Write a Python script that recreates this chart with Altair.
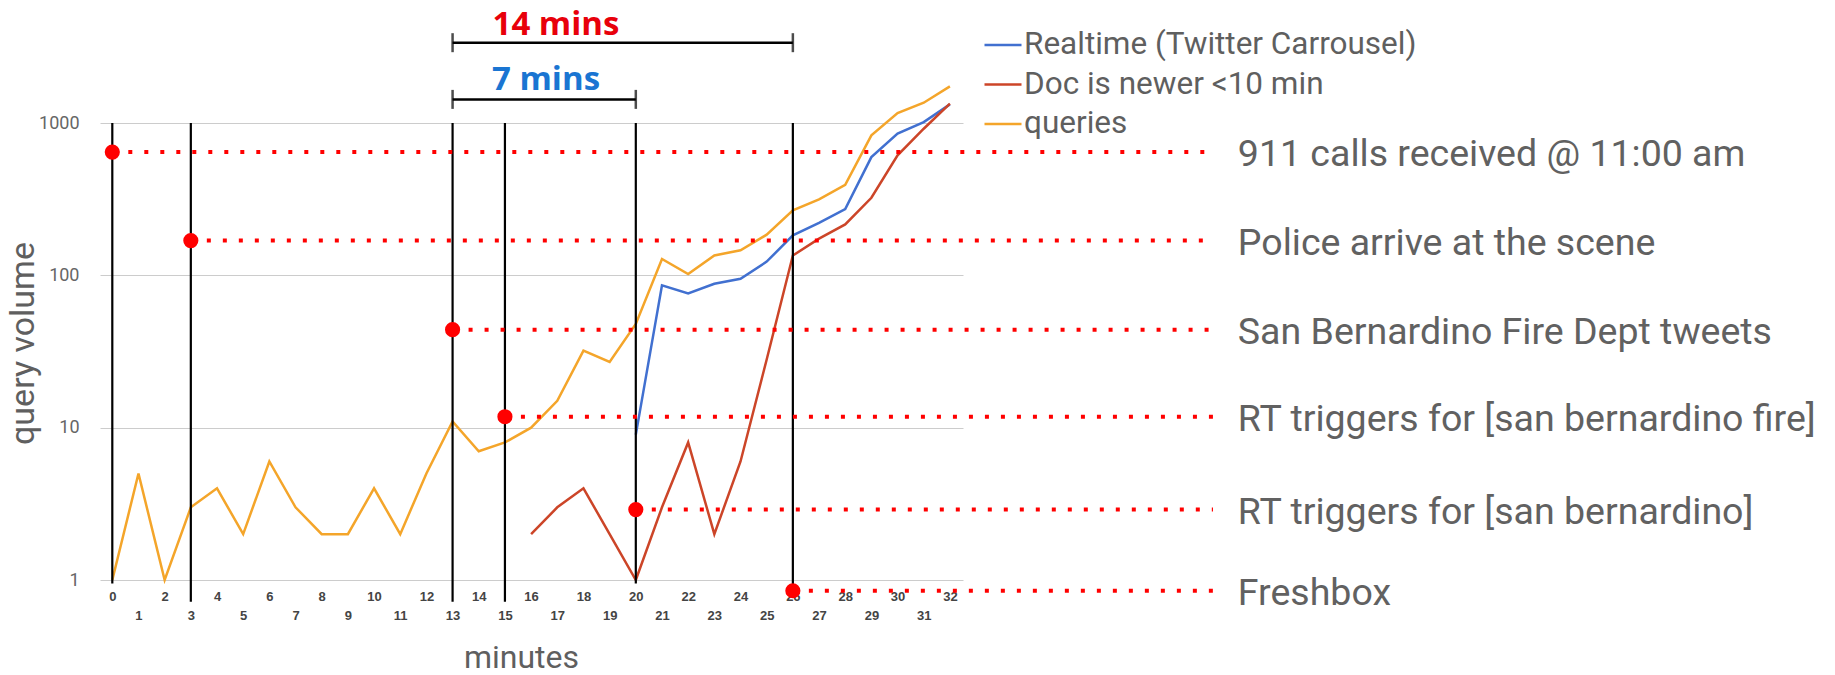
import altair as alt
import pandas as pd

# ---------------- data ----------------
minutes = list(range(33))
queries = [1, 5, 1, 3, 4, 2, 6, 3, 2, 2, 4, 2, 5, 11, 7, 8, 10, 15, 32, 27,
           48, 128, 102, 135, 146, 185, 267, 315, 393, 829, 1161, 1359, 1739]
realtime = [None] * 20 + [9, 86, 76, 88, 95, 123, 183, 221, 272, 597, 851, 1014, 1325]
doc_newer = [None] * 16 + [2, 3, 4, 2, 1, 3, 8, 2, 6, 28, 135, 174, 216, 323, 613, 917, 1339]

series_names = ["Realtime (Twitter Carrousel)", "Doc is newer <10 min", "queries"]
series_colors = ["#4170d0", "#cc4528", "#f4a52a"]

event_minute = [0, 3, 13, 15, 20, 26]
event_level = [644, 169, 44, 11.8, 2.9, 0.85]
event_label = ["911 calls received @ 11:00 am", "Police arrive at the scene",
               "San Bernardino Fire Dept tweets", "RT triggers for [san bernardino fire]",
               "RT triggers for [san bernardino]", "Freshbox"]
event_line_bottom = [0.95, 0.72, 0.72, 0.72, 0.95, 0.85]

bracket_start = [13, 13]
bracket_end = [26, 20]
bracket_level = [3367, 1429]
bracket_label = ["14 mins", "7 mins"]
bracket_label_level = [3760, 1637]
bracket_colors = ["#e8000b", "#1a75d2"]

y_ticks = [1, 10, 100, 1000]

# ---------------- layout constants ----------------
W, H = 863, 457
X_DOMAIN = [-0.47, 32.5]
LINE_END_X = 42.05      # end of dotted annotation lines (in minutes units)
LABEL_X = 43.0          # start of right-hand labels (in minutes units)
BRACKET_TEXT_X = [16.95, 16.57]

rows = []
for name, vals in zip(series_names, [realtime, doc_newer, queries]):
    for m, v in zip(minutes, vals):
        if v is not None:
            rows.append({"series": name, "minute": m, "value": v})
series_df = pd.DataFrame(rows)

events = pd.DataFrame({
    "minute": event_minute,
    "level": event_level,
    "label": event_label,
    "top": [1000] * len(event_minute),
    "bottom": event_line_bottom,
    "end": [LINE_END_X] * len(event_minute),
    "text_x": [LABEL_X] * len(event_minute),
})

xs = alt.Scale(domain=X_DOMAIN, nice=False, zero=False)
ys = alt.Scale(type="log", domain=[1, 1000], nice=False)

x_axis = alt.Axis(
    values=minutes, title="minutes", format="d", grid=False, domain=False,
    ticks=False, tickSize=0, labelFont="Liberation Sans", labelFontWeight="bold",
    labelFontSize=13, labelColor="#444444", labelBaseline="middle",
    labelPadding={"condition": {"test": "datum.value % 2 == 1", "value": 35}, "value": 16},
    labelOverlap=False, labelFlush=False, labelBound=False,
    titleFont="Roboto", titleFontSize=32, titleFontWeight="normal",
    titleColor="#5f5f5f", titleX=421, titleY=77, titleBaseline="middle",
)
y_axis = alt.Axis(
    values=y_ticks, title="query volume", format="d", grid=True, gridColor="#cccccc",
    gridWidth=1, domain=False, ticks=False, labelFont="Roboto", labelFontSize=18,
    labelColor="#666666", labelPadding=21, labelOverlap=False,
    titleFont="Roboto", titleFontSize=34, titleFontWeight="normal",
    titleColor="#5f5f5f", titleX=-77, titleY=220, titleBaseline="middle",
)


def X(field):
    return alt.X(field, type="quantitative", scale=xs, axis=x_axis)


def Y(field):
    return alt.Y(field, type="quantitative", scale=ys, axis=y_axis)


lines = alt.Chart(series_df).mark_line(strokeWidth=2.5).encode(
    x=X("minute"),
    y=Y("value"),
    color=alt.Color(
        "series:N",
        scale=alt.Scale(domain=series_names, range=series_colors),
        legend=alt.Legend(
            title=None, orient="none", legendX=883, legendY=-98, padding=0,
            symbolType="stroke", symbolSize=1369, symbolStrokeWidth=2.5,
            labelFont="Roboto", labelFontSize=31.5, labelColor="#5f5f5f",
            labelOffset=1, rowPadding=3.5, labelLimit=0,
        ),
    ),
)

vrules = alt.Chart(events).mark_rule(color="black", strokeWidth=2.2).encode(
    x=X("minute"), y=Y("top"), y2="bottom"
)

dotted = alt.Chart(events).mark_rule(color="#ff0000", strokeWidth=4, strokeDash=[4, 12]).encode(
    x=X("minute"), x2="end", y=Y("level")
)

dots = alt.Chart(events).mark_circle(color="#ff0000", size=230, opacity=1).encode(
    x=X("minute"), y=Y("level")
)

labels = alt.Chart(events).mark_text(
    align="left", baseline="middle", font="Roboto", fontSize=37.5, color="#616161", dy=3
).encode(x=X("text_x"), y=Y("level"), text="label")

brackets = pd.DataFrame({
    "start": bracket_start, "end": bracket_end, "level": bracket_level,
})
caps = pd.DataFrame({
    "minute": bracket_start + bracket_end,
    "level": bracket_level + bracket_level,
})

bracket_lines = alt.Chart(brackets).mark_rule(color="black", strokeWidth=2.5).encode(
    x=X("start"), x2="end", y=Y("level")
)
bracket_caps = alt.Chart(caps).mark_tick(
    orient="vertical", size=19, thickness=2.5, color="black"
).encode(x=X("minute"), y=Y("level"))

bracket_texts = []
for lbl, tx, lvl, col in zip(bracket_label, BRACKET_TEXT_X, bracket_label_level, bracket_colors):
    d = pd.DataFrame({"label": [lbl], "x": [tx], "level": [lvl]})
    bracket_texts.append(
        alt.Chart(d).mark_text(
            align="center", baseline="alphabetic", font="Open Sans",
            fontWeight="bold", fontSize=33, color=col
        ).encode(x=X("x"), y=Y("level"), text="label")
    )

chart = alt.layer(
    lines, vrules, dotted, dots, labels, bracket_lines, bracket_caps, *bracket_texts
).properties(
    width=W, height=H,
    autosize=alt.AutoSizeParams(type="none"),
    padding={"left": 92, "top": 115, "right": 860, "bottom": 90},
).configure_view(stroke=None)

chart.save("out.html", embed_options={"renderer": "svg", "actions": False})
